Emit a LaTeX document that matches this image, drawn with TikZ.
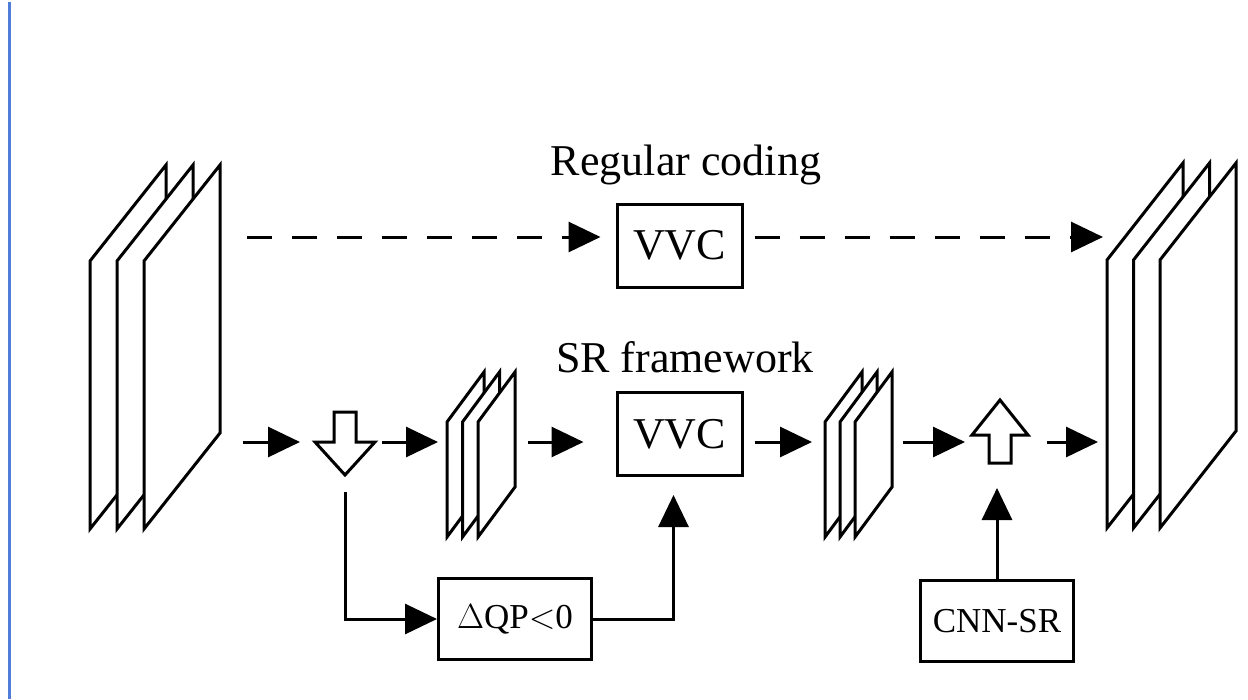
\RequirePackage{fix-cm}
\documentclass[tikz,border=0pt]{standalone}
\usepackage{fontspec}
\setmainfont{Liberation Serif}
\usepackage{tikz}
\usetikzlibrary{arrows.meta, calc, positioning}
\usepackage{xcolor}
\definecolor{pageedge}{RGB}{80,125,215}

% stack of three frames: name, x0, bottom, step, width, skew, height
\newcommand{\framestack}[7]{%
  \foreach \k in {0,1,2}
    \filldraw[framesheet] ({#2+\k*#4},#3) -- ++(0,-#7) -- ++(#5,-#6) -- ++(0,#7) -- cycle;
  \node[stackarea, minimum width={2*#4+#5}, minimum height={#6+#7}] (#1) at ({#2+#4+(#5)/2},{#3-(#6+#7)/2}) {};
}

\begin{document}
\begin{tikzpicture}[
    x=1pt, y=-1pt,
    line width=3pt,
    box/.style={rectangle, draw, line width=3pt, inner sep=0pt, align=center},
    codec/.style={box, minimum width=125pt, minimum height=83pt, font=\fontsize{44}{50}\selectfont},
    cond/.style={box, minimum width=153pt, minimum height=81pt, font=\fontsize{35}{40}\selectfont},
    headline/.style={font=\fontsize{44}{50}\selectfont, anchor=base, inner sep=0pt},
    framesheet/.style={draw, fill=white, line width=3pt},
    stackarea/.style={inner sep=0pt, outer sep=0pt},
    blockarr/.style={draw, fill=white, line width=3pt},
    arrow/.style={-{Triangle[length=32pt, width=30pt]}, line width=3pt},
    dasharrow/.style={arrow, dash pattern=on 25pt off 20pt}
]
    \useasboundingbox (0,0) rectangle (1248,699);
    \draw[pageedge, line width=3pt] (9,2) -- (9,699);

    % frame stacks
    \framestack{src}{90}{529}{27}{76}{96}{268}
    \framestack{dst}{1107}{528}{26.5}{76}{97}{268}
    \framestack{lowA}{447}{537}{15.5}{37}{50}{115}
    \framestack{lowB}{825}{537}{15}{37}{50}{115}

    % titles
    \node[headline] (regular) at (686,175) {Regular coding};
    \node[headline] (srfw) at (685,372) {SR framework};

    % codecs and side boxes
    \node[codec] (vvcA) at (679.5,245.5) {VVC};
    \node[codec] (vvcB) at (679.5,434) {VVC};
    \node[cond] (qp) at (515,619) {\(\Delta\)QP\({<}\)0};
    \node[cond] (cnn) at (997,621) {CNN-SR};

    % down / up sampling
    \node[stackarea, minimum width=60pt, minimum height=63pt] (down) at (345,443.5) {};
    \node[stackarea, minimum width=56pt, minimum height=63pt] (up) at (1000,431.5) {};
    \draw[blockarr] (down.north) ++(-11,0) -- ++(0,30) -- ++(-19,0) -- (down.south)
        -- ++(30,-33) -- ++(-19,0) -- ++(0,-30) -- cycle;
    \draw[blockarr] (up.south) ++(-11,0) -- ++(0,-28) -- ++(-17,0) -- (up.north)
        -- ++(28,35) -- ++(-17,0) -- ++(0,28) -- cycle;

    \coordinate (regrow) at (0,237);
    \coordinate (srrow) at (0,442);

    % regular coding
    \draw[dasharrow, shorten <=27pt, shorten >=15pt] (src.east |- regrow) -- (vvcA.west |- regrow);
    \draw[dasharrow, shorten <=11pt, shorten >=4pt] (vvcA.east |- regrow) -- (dst.west |- regrow);

    % SR framework
    \draw[arrow, shorten <=23pt, shorten >=15pt] (src.east |- srrow) -- (down.west |- srrow);
    \draw[arrow, shorten <=7pt, shorten >=9pt] (down.east |- srrow) -- (lowA.west |- srrow);
    \draw[arrow, shorten <=13pt, shorten >=32pt] (lowA.east |- srrow) -- (vvcB.west |- srrow);
    \draw[arrow, shorten <=11pt, shorten >=13pt] (vvcB.east |- srrow) -- (lowB.west |- srrow);
    \draw[arrow, shorten <=11pt, shorten >=7pt] (lowB.east |- srrow) -- (up.west |- srrow);
    \draw[arrow, shorten <=19pt, shorten >=9pt] (up.east |- srrow) -- (dst.west |- srrow);
    \draw[arrow, shorten <=17pt] (down.south) |- (qp.west);
    \draw[arrow, shorten >=18pt] (qp.east) -| ([xshift=-6pt]vvcB.south);
    \draw[arrow, shorten >=25pt] (cnn.north) -- (cnn.north |- up.south);
\end{tikzpicture}
\end{document}
